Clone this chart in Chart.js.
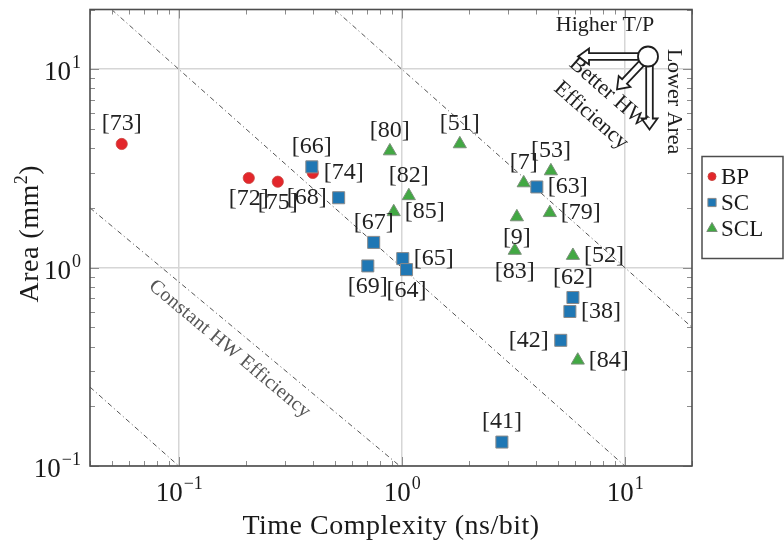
<!DOCTYPE html>
<html lang="en">
<head>
<meta charset="UTF-8">
<title>Area vs. Time Complexity</title>
<script src="https://cdn.jsdelivr.net/npm/chart.js"></script>
<style>
  html, body { margin: 0; padding: 0; background: #ffffff; }
  #wrap { width: 784px; height: 545px; }
</style>
</head>
<body>
<div id="wrap"><canvas id="grafico" width="784" height="545"></canvas></div>
<script>
// time complexity in ns/bit, area in mm^2
const bpRefs  = ['[73]', '[72]', '[75]', '[74]'];
const bpTime  = [0.0555, 0.206, 0.278, 0.399];
const bpArea  = [4.2, 2.83, 2.71, 3.0];
const bpPlace = ['above', 'below', 'below', 'right'];

const scRefs  = ['[66]', '[68]', '[67]', '[69]', '[65]', '[64]', '[63]', '[62]', '[38]', '[42]', '[41]'];
const scTime  = [0.395, 0.521, 0.748, 0.704, 1.01, 1.05, 4.03, 5.85, 5.67, 5.16, 2.81];
const scArea  = [3.22, 2.25, 1.34, 1.02, 1.11, 0.977, 2.55, 0.707, 0.601, 0.43, 0.132];
const scPlace = ['above', 'left', 'above', 'below', 'right', 'below', 'right', 'above', 'right', 'left', 'above'];

const sclRefs  = ['[80]', '[51]', '[82]', '[85]', '[7]', '[53]', '[79]', '[9]', '[83]', '[52]', '[84]'];
const sclTime  = [0.884, 1.82, 1.075, 0.92, 3.52, 4.66, 4.61, 3.28, 3.21, 5.85, 6.15];
const sclArea  = [3.87, 4.2, 2.3, 1.91, 2.67, 3.07, 1.89, 1.80, 1.22, 1.15, 0.341];
const sclPlace = ['above', 'above', 'above', 'right', 'above', 'above', 'right', 'below', 'below', 'right', 'right'];

// constant hardware efficiency guides, [start, end] in (time, area)
const guideTime = [[0.04, 0.1], [0.04, 0.98], [0.05, 10], [0.5, 20]];
const guideArea = [[0.25, 0.1], [2.0, 0.1], [20, 0.1], [20, 0.5]];

const xDecades = [-1, 0, 1];
const yDecades = [-1, 0, 1];
const xRange = [0.04, 20];
const yRange = [0.1, 20];

const FONT = '"Liberation Serif", "Times New Roman", serif';

function toPoints(xs, ys) {
  return xs.map((v, i) => ({ x: v, y: ys[i] }));
}

function isDecade(v) {
  const l = Math.log10(v);
  return Math.abs(l - Math.round(l)) < 1e-6;
}

// 1..9 x 10^k positions for the log axes
function logTicks(min, max) {
  const out = [];
  for (let e = Math.floor(Math.log10(min)); e <= Math.ceil(Math.log10(max)); e++) {
    for (let m = 1; m <= 9; m++) {
      const v = m * Math.pow(10, e);
      if (v >= min * 0.999 && v <= max * 1.001) out.push({ value: v });
    }
  }
  return out;
}

function drawPow(ctx, e, x, base, align) {
  const exp = e < 0 ? '\u2212' + (-e) : String(e);
  ctx.font = '27px ' + FONT;
  const w1 = ctx.measureText('10').width;
  ctx.font = '18px ' + FONT;
  const w2 = ctx.measureText(exp).width;
  const start = align === 'center' ? x - (w1 + w2) / 2 : x - (w1 + w2);
  ctx.textAlign = 'left';
  ctx.textBaseline = 'alphabetic';
  ctx.font = '27px ' + FONT;
  ctx.fillText('10', start, base);
  ctx.font = '18px ' + FONT;
  ctx.fillText(exp, start + w1 + 1, base - 12);
}

function hollowArrow(ctx, x0, y0, x1, y1) {
  const ang = Math.atan2(y1 - y0, x1 - x0);
  const len = Math.hypot(x1 - x0, y1 - y0);
  const w = 3.3, hw = 8, hl = 11;
  ctx.save();
  ctx.translate(x0, y0);
  ctx.rotate(ang);
  ctx.beginPath();
  ctx.moveTo(0, -w);
  ctx.lineTo(len - hl, -w);
  ctx.lineTo(len - hl, -hw);
  ctx.lineTo(len, 0);
  ctx.lineTo(len - hl, hw);
  ctx.lineTo(len - hl, w);
  ctx.lineTo(0, w);
  ctx.closePath();
  ctx.fillStyle = '#ffffff';
  ctx.fill();
  ctx.stroke();
  ctx.restore();
}

const paperDecor = {
  id: 'paperDecor',
  afterDatasetsDraw(chart) {
    const { ctx, chartArea: a, scales: { x, y } } = chart;
    ctx.save();

    // inward tick marks on every side
    ctx.strokeStyle = '#8c8c8c';
    ctx.lineWidth = 1;
    ctx.beginPath();
    x.ticks.forEach(t => {
      const px = Math.round(x.getPixelForValue(t.value)) + 0.5;
      const len = isDecade(t.value) ? 9 : 5;
      ctx.moveTo(px, a.bottom); ctx.lineTo(px, a.bottom - len);
      ctx.moveTo(px, a.top); ctx.lineTo(px, a.top + len);
    });
    y.ticks.forEach(t => {
      const py = Math.round(y.getPixelForValue(t.value)) + 0.5;
      const len = isDecade(t.value) ? 9 : 5;
      ctx.moveTo(a.left, py); ctx.lineTo(a.left + len, py);
      ctx.moveTo(a.right, py); ctx.lineTo(a.right - len, py);
    });
    ctx.stroke();

    // frame
    ctx.strokeStyle = '#4d4d4d';
    ctx.lineWidth = 1.6;
    ctx.strokeRect(a.left, a.top, a.right - a.left, a.bottom - a.top);

    // decade labels
    ctx.fillStyle = '#1a1a1a';
    xDecades.forEach(e => drawPow(ctx, e, x.getPixelForValue(Math.pow(10, e)), a.bottom + 35, 'center'));
    yDecades.forEach(e => drawPow(ctx, e, a.left - 10, y.getPixelForValue(Math.pow(10, e)) + 11, 'right'));

    // axis titles
    ctx.font = '28px ' + FONT;
    ctx.letterSpacing = '0.5px';
    ctx.textAlign = 'center';
    ctx.textBaseline = 'alphabetic';
    ctx.fillText('Time Complexity (ns/bit)', (a.left + a.right) / 2, a.bottom + 68);

    ctx.save();
    ctx.translate(38, (a.top + a.bottom) / 2 - 4);
    ctx.rotate(-Math.PI / 2);
    ctx.font = '28px ' + FONT;
    const t1 = 'Area (mm', t3 = ')';
    const w1 = ctx.measureText(t1).width, w3 = ctx.measureText(t3).width;
    ctx.font = '18px ' + FONT;
    const w2 = ctx.measureText('2').width;
    let sx = -(w1 + w2 + w3) / 2;
    ctx.textAlign = 'left';
    ctx.font = '28px ' + FONT;
    ctx.fillText(t1, sx, 0);
    ctx.font = '18px ' + FONT;
    ctx.fillText('2', sx + w1, -11);
    ctx.font = '28px ' + FONT;
    ctx.fillText(t3, sx + w1 + w2, 0);
    ctx.restore();
    ctx.letterSpacing = '0px';

    // reference labels next to each mark
    ctx.font = '24px ' + FONT;
    ctx.fillStyle = '#222222';
    ctx.textBaseline = 'middle';
    chart.data.datasets.forEach((ds, i) => {
      if (!ds.refs) return;
      chart.getDatasetMeta(i).data.forEach((pt, j) => {
        const where = ds.place[j];
        if (where === 'above') { ctx.textAlign = 'center'; ctx.fillText(ds.refs[j], pt.x, pt.y - 20); }
        else if (where === 'below') { ctx.textAlign = 'center'; ctx.fillText(ds.refs[j], pt.x, pt.y + 21); }
        else if (where === 'right') { ctx.textAlign = 'left'; ctx.fillText(ds.refs[j], pt.x + 11, pt.y); }
        else { ctx.textAlign = 'right'; ctx.fillText(ds.refs[j], pt.x - 12, pt.y); }
      });
    });

    // caption along the middle efficiency guide
    const g = chart.getDatasetMeta(1).data;
    const gx = g[1].x - g[0].x, gy = g[1].y - g[0].y;
    const gl = Math.hypot(gx, gy);
    const ux = gx / gl, uy = gy / gl;
    const mx = g[0].x + gx * 0.49 - uy * 19, my = g[0].y + gy * 0.49 + ux * 19;
    ctx.save();
    ctx.translate(mx, my);
    ctx.rotate(Math.atan2(gy, gx));
    ctx.font = '20px ' + FONT;
    ctx.letterSpacing = '0.3px';
    ctx.fillStyle = '#555555';
    ctx.textAlign = 'center';
    ctx.textBaseline = 'middle';
    ctx.fillText('Constant HW Efficiency', 0, 0);
    ctx.letterSpacing = '0px';
    ctx.restore();

    // direction hint in the upper right corner
    const cx = a.right - 44, cy = a.top + 47;
    ctx.strokeStyle = '#1e1e1e';
    ctx.lineWidth = 1.8;
    hollowArrow(ctx, cx, cy, cx - 70, cy);
    hollowArrow(ctx, cx, cy, cx - 31, cy + 33);
    hollowArrow(ctx, cx + 1.5, cy, cx + 1.5, cy + 73);
    ctx.beginPath();
    ctx.arc(cx, cy, 10, 0, Math.PI * 2);
    ctx.fillStyle = '#ffffff';
    ctx.fill();
    ctx.stroke();

    ctx.fillStyle = '#1e1e1e';
    ctx.font = '22px ' + FONT;
    ctx.textAlign = 'center';
    ctx.textBaseline = 'alphabetic';
    ctx.fillText('Higher T/P', cx - 43, cy - 26);

    ctx.textBaseline = 'middle';
    ctx.save();
    ctx.translate(cx + 26, cy + 45);
    ctx.rotate(Math.PI / 2);
    ctx.fillText('Lower Area', 0, 0);
    ctx.restore();

    ctx.save();
    ctx.translate(cx - 40, cy + 36);
    ctx.rotate(0.72);
    ctx.fillText('Better HW', 0, 0);
    ctx.restore();
    ctx.save();
    ctx.translate(cx - 57, cy + 59);
    ctx.rotate(0.72);
    ctx.fillText('Efficiency', 0, 0);
    ctx.restore();

    // legend box
    const lx = a.right + 10, ly = a.top + 147;
    ctx.strokeStyle = '#4d4d4d';
    ctx.lineWidth = 1.5;
    ctx.strokeRect(lx, ly, 81, 102);
    ctx.font = '23px ' + FONT;
    ctx.textAlign = 'left';
    ctx.textBaseline = 'middle';
    chart.data.datasets.filter(ds => ds.refs).forEach((ds, k) => {
      const iy = ly + 20 + k * 26;
      ctx.fillStyle = ds.backgroundColor;
      ctx.strokeStyle = ds.borderColor;
      ctx.lineWidth = 1;
      Chart.helpers.drawPoint(ctx, {
        pointStyle: ds.pointStyle,
        radius: ds.legendRadius,
        borderWidth: 1,
        rotation: 0
      }, lx + 10, iy);
      ctx.fillStyle = '#1a1a1a';
      ctx.fillText(ds.label, lx + 19, iy + 1);
    });

    ctx.restore();
  }
};

const guideSets = guideTime.map((gt, i) => ({
  label: 'guide' + i,
  data: toPoints(gt, guideArea[i]),
  showLine: true,
  borderColor: '#555555',
  borderWidth: 1,
  borderDash: [5, 3, 1, 3],
  pointRadius: 0,
  order: 10
}));

new Chart(document.getElementById('grafico'), {
  type: 'scatter',
  data: {
    datasets: [
      guideSets[0], guideSets[1], guideSets[2], guideSets[3],
      {
        label: 'BP', refs: bpRefs, place: bpPlace,
        data: toPoints(bpTime, bpArea),
        pointStyle: 'circle', pointRadius: 5.6, legendRadius: 4,
        backgroundColor: '#e3262b', borderColor: '#c9453f', borderWidth: 0.8,
        order: 3
      },
      {
        label: 'SC', refs: scRefs, place: scPlace,
        data: toPoints(scTime, scArea),
        pointStyle: 'rect', pointRadius: 8.5, legendRadius: 5.8,
        backgroundColor: '#1f77b4', borderColor: '#8a8a8a', borderWidth: 1,
        order: 2
      },
      {
        label: 'SCL', refs: sclRefs, place: sclPlace,
        data: toPoints(sclTime, sclArea),
        pointStyle: 'triangle', pointRadius: 7.6, legendRadius: 6,
        backgroundColor: '#42a843', borderColor: '#7a8f7a', borderWidth: 1,
        order: 1
      }
    ]
  },
  options: {
    responsive: false,
    animation: false,
    devicePixelRatio: 1,
    layout: { padding: { top: 8, right: 92, left: 0, bottom: 0 } },
    plugins: {
      legend: { display: false },
      tooltip: { enabled: false }
    },
    scales: {
      x: {
        type: 'logarithmic',
        min: xRange[0], max: xRange[1],
        afterBuildTicks: s => { s.ticks = logTicks(xRange[0], xRange[1]); },
        afterFit: s => { s.height = 79; },
        ticks: { display: false },
        border: { display: false },
        grid: {
          drawTicks: false,
          lineWidth: 1.5,
          color: c => (c.tick && isDecade(c.tick.value)) ? '#d6d6d6' : 'rgba(0,0,0,0)'
        }
      },
      y: {
        type: 'logarithmic',
        min: yRange[0], max: yRange[1],
        afterBuildTicks: s => { s.ticks = logTicks(yRange[0], yRange[1]); },
        afterFit: s => { s.width = 90; },
        ticks: { display: false },
        border: { display: false },
        grid: {
          drawTicks: false,
          lineWidth: 1.5,
          color: c => (c.tick && isDecade(c.tick.value)) ? '#d6d6d6' : 'rgba(0,0,0,0)'
        }
      }
    }
  },
  plugins: [paperDecor]
});
</script>
</body>
</html>
